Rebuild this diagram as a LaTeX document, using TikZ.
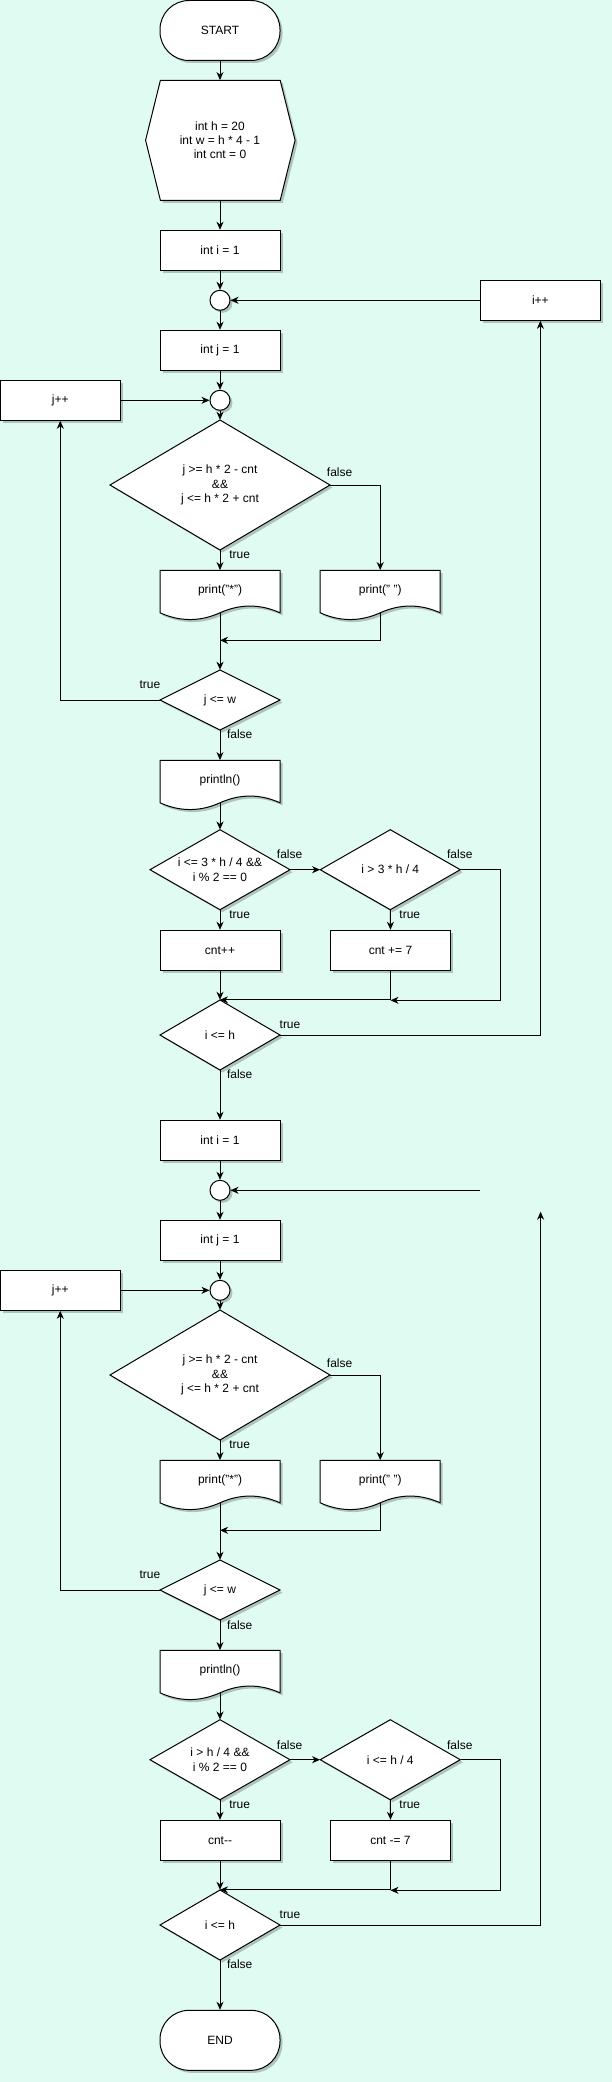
\documentclass[tikz,border=0pt]{standalone}
\usepackage{fontspec}
\setmainfont{Liberation Sans}
\usetikzlibrary{arrows.meta,shadows}
\definecolor{bgc}{RGB}{224,251,242}
\newcommand\DiaN[6]{%
  \path[shp] (#2-#4,#3) -- (#2,#3-#5) -- (#2+#4,#3) -- (#2,#3+#5) -- cycle;
  \node[txt, minimum width={2*#4}, minimum height={2*#5}] (#1) at (#2,#3) {#6};}
\newcommand\DocN[4]{%
  \path[shp] (#2-60,#3) -- (#2+60,#3) -- (#2+60,#3+42.5)
     .. controls (#2+40,#3+33.5) and (#2+20,#3+33.5) .. (#2,#3+42.5)
     .. controls (#2-20,#3+51.5) and (#2-40,#3+51.5) .. (#2-60,#3+42.5) -- cycle;
  \node[txt, minimum width=120, minimum height=40] (#1) at (#2,#3+20) {#4};
  \coordinate (#1b) at (#2,#3+42.5);}
\newcommand\Block[6]{%
  \node[proc] (i#1) at (220,250.3+#2) {int i = 1};
  \node[jn] (ci#1) at (220,300.3+#2) {};
  \node[proc] (j#1) at (220,350.3+#2) {int j = 1};
  \node[jn] (cj#1) at (220,400.3+#2) {};
  \node[proc] (jinc#1) at (60.3,400.3+#2) {j++};
  \DiaN{da#1}{220}{485+#2}{110}{65}{j >= h * 2 - cnt\\\&\&\\j <= h * 2 + cnt}
  \DocN{pa#1}{220}{570.3+#2}{print("*")}
  \DocN{pb#1}{380.2}{570.3+#2}{print(" ")}
  \DiaN{db#1}{220}{700+#2}{60}{30}{j <= w}
  \DocN{pl#1}{220}{760.3+#2}{println()}
  \DiaN{dc#1}{220}{869.7+#2}{70}{40}{#3}
  \DiaN{dd#1}{390.3}{869.7+#2}{70}{40}{#4}
  \node[proc] (ca#1) at (220,950.3+#2) {#5};
  \node[proc] (cb#1) at (390.5,950.3+#2) {#6};
  \DiaN{de#1}{220}{1035+#2}{60}{35}{i <= h}
  \coordinate (m#1) at (220,640.3+#2);
  \coordinate (r#1) at (500.4,869.7+#2);
  \coordinate (n#1) at (390.5,1000.3+#2);
  \draw[conn] (i#1) -- (ci#1);
  \draw[conn] (ci#1) -- (j#1);
  \draw[conn] (j#1) -- (cj#1);
  \draw[conn] (cj#1) -- (da#1);
  \draw[conn] (jinc#1) -- (cj#1);
  \draw[conn] (da#1.south) -- (pa#1.north);
  \draw[conn] (da#1.east) -| (pb#1.north);
  \draw[conn] (pb#1b) |- (m#1);
  \draw[conn] (pa#1b) -- (db#1.north);
  \draw[conn] (db#1.west) -| (jinc#1.south);
  \draw[conn] (db#1.south) -- (pl#1.north);
  \draw[conn] (pl#1b) -- (dc#1.north);
  \draw[conn] (dc#1.east) -- (dd#1.west);
  \draw[conn] (dc#1.south) -- (ca#1.north);
  \draw[conn] (dd#1.south) -- (cb#1.north);
  \draw[conn] (dd#1.east) -- (r#1) |- (n#1);
  \draw[conn] (cb#1.south) |- (de#1.north);
  \draw[conn] (ca#1.south) -- (de#1.north);
  \node[lbl] (la#1) at (339.6,472.7+#2) {false};
  \node[lbl] (lb#1) at (239.7,554.3+#2) {true};
  \node[lbl] (lc#1) at (150,684.3+#2) {true};
  \node[lbl] (ld#1) at (239.7,734.7+#2) {false};
  \node[lbl] (le#1) at (289.6,854.7+#2) {false};
  \node[lbl] (lf#1) at (459.8,854.7+#2) {false};
  \node[lbl] (lg#1) at (239.7,914.3+#2) {true};
  \node[lbl] (lh#1) at (409.8,914.3+#2) {true};
  \node[lbl] (li#1) at (290,1024.3+#2) {true};
  \node[lbl] (lj#1) at (239.7,1074.3+#2) {false};
}
\begin{document}
\begin{tikzpicture}[x=1pt,y=-1pt,
  shp/.style={draw=black, fill=white, line width=1pt,
    drop shadow={shadow xshift=2.5pt, shadow yshift=-2.5pt, opacity=.22, fill=black}},
  txt/.style={draw=none, inner sep=0, align=center, font=\fontsize{12}{14.4}\selectfont},
  proc/.style={shp, rectangle, minimum width=120, minimum height=40, inner sep=0,
    font=\fontsize{12}{14.4}\selectfont},
  term/.style={proc, rounded corners=29pt, minimum height=60},
  jn/.style={shp, circle, minimum size=20, inner sep=0},
  lbl/.style={inner sep=0, font=\fontsize{12}{14.4}\selectfont},
  conn/.style={line width=1pt, -{Stealth[length=8pt,width=7pt,inset=2.5pt]}}]
\fill[bgc] (0,0) rectangle (612,2082);
\useasboundingbox (0,0) rectangle (612,2082);
\node[term] (start) at (220,30.5) {START};
\path[shp] (145.6,140.3) -- (160.4,80.3) -- (280.2,80.3) -- (295.1,140.3) -- (280.2,200.3) -- (160.4,200.3) -- cycle;
\node[txt, minimum width=150, minimum height=120] (init) at (220,140.3) {int h = 20\\int w = h * 4 - 1\\int cnt = 0};
\draw[conn] (start) -- (init);
\Block{a}{0}{i <= 3 * h / 4 \&\&\\i \% 2 == 0}{i > 3 * h / 4}{cnt++}{cnt += 7}
\Block{b}{890}{i > h / 4 \&\&\\i \% 2 == 0}{i <= h / 4}{cnt-{}-}{cnt -= 7}
\draw[conn] (init) -- (ia);
\node[proc] (iinc) at (540.4,300.3) {i++};
\draw[conn] (iinc) -- (cia);
\draw[conn] (dea.east) -| (iinc.south);
\draw[conn] (dea.south) -- (ib.north);
\coordinate (loosein) at (480,1190.3);
\draw[conn] (loosein) -- (cib);
\coordinate (looseup) at (540.6,1211.7);
\draw[conn] (deb.east) -| (looseup);
\node[term] (end) at (220,2040.3) {END};
\draw[conn] (deb.south) -- (end.north);
\end{tikzpicture}
\end{document}
